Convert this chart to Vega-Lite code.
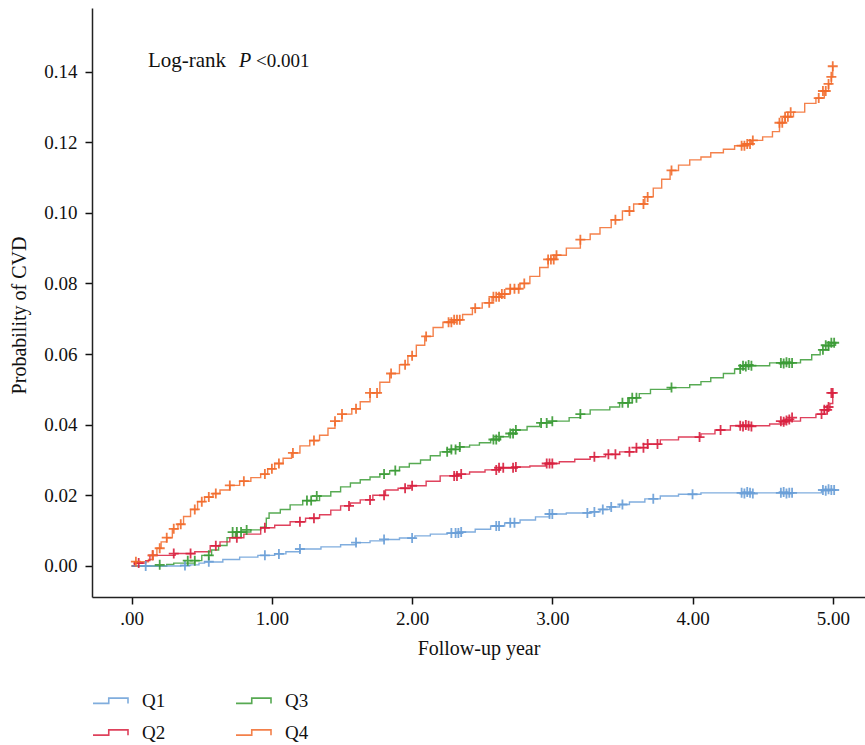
{
  "$schema": "https://vega.github.io/schema/vega-lite/v6.json",
  "width": 773,
  "height": 589,
  "autosize": {"type": "none"},
  "padding": {"left": 92, "top": 8, "right": 0, "bottom": 148},
  "background": "white",
  "config": {
    "font": "Liberation Serif",
    "view": {"stroke": null},
    "axis": {
      "grid": false,
      "domainColor": "#222222",
      "domainWidth": 1.5,
      "tickColor": "#111111",
      "tickWidth": 1.5,
      "tickSize": 7,
      "labelColor": "#111111",
      "labelFontSize": 19,
      "titleColor": "#111111",
      "titleFontSize": 20,
      "titleFontWeight": "normal",
      "labelFont": "Liberation Serif",
      "titleFont": "Liberation Serif"
    },
    "legend": {"labelFont": "Liberation Serif"}
  },
  "datasets": {
    "curves": [
      {"group": "Q4", "t": 0, "p": 0},
      {"group": "Q4", "t": 0.02, "p": 0.0012},
      {"group": "Q4", "t": 0.12, "p": 0.0018},
      {"group": "Q4", "t": 0.15, "p": 0.003},
      {"group": "Q4", "t": 0.18, "p": 0.005},
      {"group": "Q4", "t": 0.21, "p": 0.0068},
      {"group": "Q4", "t": 0.25, "p": 0.008},
      {"group": "Q4", "t": 0.29, "p": 0.0105},
      {"group": "Q4", "t": 0.33, "p": 0.0118},
      {"group": "Q4", "t": 0.37, "p": 0.014},
      {"group": "Q4", "t": 0.42, "p": 0.016},
      {"group": "Q4", "t": 0.47, "p": 0.0182},
      {"group": "Q4", "t": 0.52, "p": 0.0195},
      {"group": "Q4", "t": 0.58, "p": 0.0205},
      {"group": "Q4", "t": 0.63, "p": 0.0215},
      {"group": "Q4", "t": 0.7, "p": 0.0228},
      {"group": "Q4", "t": 0.77, "p": 0.024},
      {"group": "Q4", "t": 0.85, "p": 0.025},
      {"group": "Q4", "t": 0.92, "p": 0.026},
      {"group": "Q4", "t": 0.97, "p": 0.0275},
      {"group": "Q4", "t": 1.02, "p": 0.029},
      {"group": "Q4", "t": 1.08, "p": 0.0305},
      {"group": "Q4", "t": 1.14, "p": 0.032},
      {"group": "Q4", "t": 1.2, "p": 0.034},
      {"group": "Q4", "t": 1.27, "p": 0.0355},
      {"group": "Q4", "t": 1.34, "p": 0.037},
      {"group": "Q4", "t": 1.4, "p": 0.039},
      {"group": "Q4", "t": 1.45, "p": 0.041},
      {"group": "Q4", "t": 1.5, "p": 0.043},
      {"group": "Q4", "t": 1.57, "p": 0.0445},
      {"group": "Q4", "t": 1.63, "p": 0.0465},
      {"group": "Q4", "t": 1.7, "p": 0.049},
      {"group": "Q4", "t": 1.77, "p": 0.052},
      {"group": "Q4", "t": 1.84, "p": 0.0545},
      {"group": "Q4", "t": 1.91, "p": 0.057},
      {"group": "Q4", "t": 1.97, "p": 0.0595},
      {"group": "Q4", "t": 2.03, "p": 0.0625},
      {"group": "Q4", "t": 2.09, "p": 0.065},
      {"group": "Q4", "t": 2.15, "p": 0.0675},
      {"group": "Q4", "t": 2.22, "p": 0.069},
      {"group": "Q4", "t": 2.3, "p": 0.0697},
      {"group": "Q4", "t": 2.36, "p": 0.0712},
      {"group": "Q4", "t": 2.43, "p": 0.073},
      {"group": "Q4", "t": 2.5, "p": 0.0745},
      {"group": "Q4", "t": 2.57, "p": 0.0762},
      {"group": "Q4", "t": 2.63, "p": 0.077},
      {"group": "Q4", "t": 2.7, "p": 0.0785},
      {"group": "Q4", "t": 2.77, "p": 0.08},
      {"group": "Q4", "t": 2.84, "p": 0.082},
      {"group": "Q4", "t": 2.91, "p": 0.0845},
      {"group": "Q4", "t": 2.97, "p": 0.0868},
      {"group": "Q4", "t": 3.02, "p": 0.088},
      {"group": "Q4", "t": 3.1, "p": 0.09},
      {"group": "Q4", "t": 3.2, "p": 0.0924},
      {"group": "Q4", "t": 3.27, "p": 0.094},
      {"group": "Q4", "t": 3.34, "p": 0.0958},
      {"group": "Q4", "t": 3.42, "p": 0.098},
      {"group": "Q4", "t": 3.5, "p": 0.1005},
      {"group": "Q4", "t": 3.58, "p": 0.1025},
      {"group": "Q4", "t": 3.66, "p": 0.1045},
      {"group": "Q4", "t": 3.72, "p": 0.107},
      {"group": "Q4", "t": 3.78, "p": 0.1095},
      {"group": "Q4", "t": 3.84, "p": 0.112},
      {"group": "Q4", "t": 3.9, "p": 0.1135},
      {"group": "Q4", "t": 3.98, "p": 0.115},
      {"group": "Q4", "t": 4.06, "p": 0.1158},
      {"group": "Q4", "t": 4.13, "p": 0.117},
      {"group": "Q4", "t": 4.22, "p": 0.118},
      {"group": "Q4", "t": 4.3, "p": 0.119},
      {"group": "Q4", "t": 4.36, "p": 0.1195},
      {"group": "Q4", "t": 4.42, "p": 0.1205},
      {"group": "Q4", "t": 4.5, "p": 0.1215},
      {"group": "Q4", "t": 4.57, "p": 0.123},
      {"group": "Q4", "t": 4.62, "p": 0.1255},
      {"group": "Q4", "t": 4.66, "p": 0.1272},
      {"group": "Q4", "t": 4.72, "p": 0.1285},
      {"group": "Q4", "t": 4.8, "p": 0.131},
      {"group": "Q4", "t": 4.88, "p": 0.1325},
      {"group": "Q4", "t": 4.94, "p": 0.1345},
      {"group": "Q4", "t": 4.97, "p": 0.1365},
      {"group": "Q4", "t": 4.99, "p": 0.1385},
      {"group": "Q4", "t": 5.0, "p": 0.1415},

      {"group": "Q3", "t": 0, "p": 0},
      {"group": "Q3", "t": 0.25, "p": 0.0004},
      {"group": "Q3", "t": 0.3, "p": 0.0008},
      {"group": "Q3", "t": 0.45, "p": 0.0015},
      {"group": "Q3", "t": 0.5, "p": 0.003},
      {"group": "Q3", "t": 0.57, "p": 0.0045},
      {"group": "Q3", "t": 0.62, "p": 0.0058},
      {"group": "Q3", "t": 0.68, "p": 0.008},
      {"group": "Q3", "t": 0.74, "p": 0.0096},
      {"group": "Q3", "t": 0.85, "p": 0.0102},
      {"group": "Q3", "t": 0.92, "p": 0.011},
      {"group": "Q3", "t": 0.96, "p": 0.0135},
      {"group": "Q3", "t": 0.98, "p": 0.015},
      {"group": "Q3", "t": 1.06, "p": 0.016},
      {"group": "Q3", "t": 1.13, "p": 0.0173},
      {"group": "Q3", "t": 1.22, "p": 0.0185},
      {"group": "Q3", "t": 1.34, "p": 0.0198},
      {"group": "Q3", "t": 1.42, "p": 0.021},
      {"group": "Q3", "t": 1.49, "p": 0.0224},
      {"group": "Q3", "t": 1.56, "p": 0.0235},
      {"group": "Q3", "t": 1.63, "p": 0.0244},
      {"group": "Q3", "t": 1.7, "p": 0.0252},
      {"group": "Q3", "t": 1.77, "p": 0.026},
      {"group": "Q3", "t": 1.84, "p": 0.027},
      {"group": "Q3", "t": 1.91, "p": 0.028},
      {"group": "Q3", "t": 1.98, "p": 0.029},
      {"group": "Q3", "t": 2.06, "p": 0.03},
      {"group": "Q3", "t": 2.13, "p": 0.0312},
      {"group": "Q3", "t": 2.2, "p": 0.0323},
      {"group": "Q3", "t": 2.27, "p": 0.033},
      {"group": "Q3", "t": 2.34, "p": 0.0337},
      {"group": "Q3", "t": 2.41, "p": 0.0342},
      {"group": "Q3", "t": 2.48, "p": 0.0349},
      {"group": "Q3", "t": 2.56, "p": 0.0358},
      {"group": "Q3", "t": 2.63, "p": 0.0366},
      {"group": "Q3", "t": 2.69, "p": 0.0375},
      {"group": "Q3", "t": 2.74, "p": 0.0385},
      {"group": "Q3", "t": 2.82, "p": 0.0395},
      {"group": "Q3", "t": 2.91, "p": 0.0405},
      {"group": "Q3", "t": 3.0, "p": 0.041},
      {"group": "Q3", "t": 3.12, "p": 0.042},
      {"group": "Q3", "t": 3.2, "p": 0.043},
      {"group": "Q3", "t": 3.27, "p": 0.0442},
      {"group": "Q3", "t": 3.41, "p": 0.045},
      {"group": "Q3", "t": 3.48, "p": 0.0462},
      {"group": "Q3", "t": 3.55, "p": 0.0476},
      {"group": "Q3", "t": 3.62, "p": 0.0488},
      {"group": "Q3", "t": 3.7, "p": 0.05},
      {"group": "Q3", "t": 3.84, "p": 0.0505},
      {"group": "Q3", "t": 3.98, "p": 0.0513},
      {"group": "Q3", "t": 4.06, "p": 0.0522},
      {"group": "Q3", "t": 4.13, "p": 0.0533},
      {"group": "Q3", "t": 4.22, "p": 0.0545},
      {"group": "Q3", "t": 4.3, "p": 0.0558},
      {"group": "Q3", "t": 4.34, "p": 0.0567},
      {"group": "Q3", "t": 4.55, "p": 0.0575},
      {"group": "Q3", "t": 4.77, "p": 0.0584},
      {"group": "Q3", "t": 4.85, "p": 0.0598},
      {"group": "Q3", "t": 4.91, "p": 0.0612},
      {"group": "Q3", "t": 4.97, "p": 0.0625},
      {"group": "Q3", "t": 5.02, "p": 0.0632},

      {"group": "Q2", "t": 0, "p": 0},
      {"group": "Q2", "t": 0.02, "p": 0.0008},
      {"group": "Q2", "t": 0.1, "p": 0.0015},
      {"group": "Q2", "t": 0.13, "p": 0.003},
      {"group": "Q2", "t": 0.31, "p": 0.0035},
      {"group": "Q2", "t": 0.45, "p": 0.004},
      {"group": "Q2", "t": 0.56, "p": 0.0057},
      {"group": "Q2", "t": 0.63, "p": 0.0068},
      {"group": "Q2", "t": 0.7, "p": 0.008},
      {"group": "Q2", "t": 0.8, "p": 0.009},
      {"group": "Q2", "t": 0.92, "p": 0.0108},
      {"group": "Q2", "t": 1.02, "p": 0.0115},
      {"group": "Q2", "t": 1.13, "p": 0.0125},
      {"group": "Q2", "t": 1.24, "p": 0.0135},
      {"group": "Q2", "t": 1.34, "p": 0.0145},
      {"group": "Q2", "t": 1.42, "p": 0.0158},
      {"group": "Q2", "t": 1.49, "p": 0.017},
      {"group": "Q2", "t": 1.56, "p": 0.0178},
      {"group": "Q2", "t": 1.63, "p": 0.0187},
      {"group": "Q2", "t": 1.72, "p": 0.02},
      {"group": "Q2", "t": 1.81, "p": 0.0215},
      {"group": "Q2", "t": 1.9, "p": 0.022},
      {"group": "Q2", "t": 1.99, "p": 0.0227},
      {"group": "Q2", "t": 2.1, "p": 0.024},
      {"group": "Q2", "t": 2.2, "p": 0.0255},
      {"group": "Q2", "t": 2.3, "p": 0.026},
      {"group": "Q2", "t": 2.41, "p": 0.0266},
      {"group": "Q2", "t": 2.52, "p": 0.0272},
      {"group": "Q2", "t": 2.63, "p": 0.0278},
      {"group": "Q2", "t": 2.74, "p": 0.028},
      {"group": "Q2", "t": 2.84, "p": 0.0283},
      {"group": "Q2", "t": 2.95, "p": 0.029},
      {"group": "Q2", "t": 3.05, "p": 0.0295},
      {"group": "Q2", "t": 3.16, "p": 0.0302},
      {"group": "Q2", "t": 3.27, "p": 0.0309},
      {"group": "Q2", "t": 3.38, "p": 0.0316},
      {"group": "Q2", "t": 3.48, "p": 0.0323},
      {"group": "Q2", "t": 3.6, "p": 0.0335},
      {"group": "Q2", "t": 3.68, "p": 0.0345},
      {"group": "Q2", "t": 3.77, "p": 0.0357},
      {"group": "Q2", "t": 3.9, "p": 0.0365},
      {"group": "Q2", "t": 4.06, "p": 0.0374},
      {"group": "Q2", "t": 4.16, "p": 0.0385},
      {"group": "Q2", "t": 4.27, "p": 0.0397},
      {"group": "Q2", "t": 4.55, "p": 0.0402},
      {"group": "Q2", "t": 4.66, "p": 0.041},
      {"group": "Q2", "t": 4.77, "p": 0.042},
      {"group": "Q2", "t": 4.88, "p": 0.043},
      {"group": "Q2", "t": 4.94, "p": 0.0442},
      {"group": "Q2", "t": 4.98, "p": 0.046},
      {"group": "Q2", "t": 5.0, "p": 0.049},

      {"group": "Q1", "t": 0, "p": 0},
      {"group": "Q1", "t": 0.35, "p": 0.0001},
      {"group": "Q1", "t": 0.42, "p": 0.0003},
      {"group": "Q1", "t": 0.48, "p": 0.0008},
      {"group": "Q1", "t": 0.52, "p": 0.0011},
      {"group": "Q1", "t": 0.65, "p": 0.0018},
      {"group": "Q1", "t": 0.77, "p": 0.0025},
      {"group": "Q1", "t": 0.9, "p": 0.003},
      {"group": "Q1", "t": 1.02, "p": 0.0034},
      {"group": "Q1", "t": 1.1, "p": 0.004},
      {"group": "Q1", "t": 1.2, "p": 0.0048},
      {"group": "Q1", "t": 1.35, "p": 0.0054},
      {"group": "Q1", "t": 1.49, "p": 0.006},
      {"group": "Q1", "t": 1.6, "p": 0.0066},
      {"group": "Q1", "t": 1.7, "p": 0.0071},
      {"group": "Q1", "t": 1.8, "p": 0.0075},
      {"group": "Q1", "t": 1.91, "p": 0.0079},
      {"group": "Q1", "t": 2.02, "p": 0.0085},
      {"group": "Q1", "t": 2.13, "p": 0.009},
      {"group": "Q1", "t": 2.25, "p": 0.0093},
      {"group": "Q1", "t": 2.34, "p": 0.0096},
      {"group": "Q1", "t": 2.45, "p": 0.0104},
      {"group": "Q1", "t": 2.56, "p": 0.0113},
      {"group": "Q1", "t": 2.66, "p": 0.0122},
      {"group": "Q1", "t": 2.77, "p": 0.013},
      {"group": "Q1", "t": 2.88, "p": 0.0139},
      {"group": "Q1", "t": 2.98, "p": 0.0147},
      {"group": "Q1", "t": 3.1, "p": 0.015},
      {"group": "Q1", "t": 3.27, "p": 0.0153},
      {"group": "Q1", "t": 3.34, "p": 0.016},
      {"group": "Q1", "t": 3.41, "p": 0.0167},
      {"group": "Q1", "t": 3.48, "p": 0.0174},
      {"group": "Q1", "t": 3.55, "p": 0.0181},
      {"group": "Q1", "t": 3.66, "p": 0.019},
      {"group": "Q1", "t": 3.77, "p": 0.0198},
      {"group": "Q1", "t": 3.9, "p": 0.0203},
      {"group": "Q1", "t": 4.06, "p": 0.0207},
      {"group": "Q1", "t": 4.9, "p": 0.0207},
      {"group": "Q1", "t": 4.92, "p": 0.0215},
      {"group": "Q1", "t": 5.02, "p": 0.0215}
    ],
    "censor": [
      {"group": "Q1", "t": 0.1, "p": 0},
      {"group": "Q1", "t": 0.38, "p": 0.0001},
      {"group": "Q1", "t": 0.55, "p": 0.0012},
      {"group": "Q1", "t": 0.95, "p": 0.003},
      {"group": "Q1", "t": 1.05, "p": 0.0034},
      {"group": "Q1", "t": 1.2, "p": 0.0048},
      {"group": "Q1", "t": 1.6, "p": 0.0066},
      {"group": "Q1", "t": 1.8, "p": 0.0075},
      {"group": "Q1", "t": 2.0, "p": 0.0079},
      {"group": "Q1", "t": 2.28, "p": 0.0093},
      {"group": "Q1", "t": 2.31, "p": 0.0093},
      {"group": "Q1", "t": 2.33, "p": 0.0093},
      {"group": "Q1", "t": 2.35, "p": 0.0096},
      {"group": "Q1", "t": 2.6, "p": 0.0113},
      {"group": "Q1", "t": 2.62, "p": 0.0113},
      {"group": "Q1", "t": 2.7, "p": 0.0122},
      {"group": "Q1", "t": 2.73, "p": 0.0122},
      {"group": "Q1", "t": 2.98, "p": 0.0147},
      {"group": "Q1", "t": 3.0, "p": 0.0147},
      {"group": "Q1", "t": 3.25, "p": 0.015},
      {"group": "Q1", "t": 3.3, "p": 0.0153},
      {"group": "Q1", "t": 3.36, "p": 0.016},
      {"group": "Q1", "t": 3.42, "p": 0.0167},
      {"group": "Q1", "t": 3.5, "p": 0.0174},
      {"group": "Q1", "t": 3.72, "p": 0.019},
      {"group": "Q1", "t": 4.0, "p": 0.0203},
      {"group": "Q1", "t": 4.35, "p": 0.0207},
      {"group": "Q1", "t": 4.37, "p": 0.0205},
      {"group": "Q1", "t": 4.39, "p": 0.0209},
      {"group": "Q1", "t": 4.41, "p": 0.0207},
      {"group": "Q1", "t": 4.43, "p": 0.0205},
      {"group": "Q1", "t": 4.63, "p": 0.0207},
      {"group": "Q1", "t": 4.65, "p": 0.0209},
      {"group": "Q1", "t": 4.67, "p": 0.0205},
      {"group": "Q1", "t": 4.69, "p": 0.0207},
      {"group": "Q1", "t": 4.71, "p": 0.0207},
      {"group": "Q1", "t": 4.93, "p": 0.0215},
      {"group": "Q1", "t": 4.95, "p": 0.0213},
      {"group": "Q1", "t": 4.97, "p": 0.0217},
      {"group": "Q1", "t": 4.99, "p": 0.0215},
      {"group": "Q1", "t": 5.01, "p": 0.0215},

      {"group": "Q2", "t": 0.05, "p": 0.0008},
      {"group": "Q2", "t": 0.15, "p": 0.003},
      {"group": "Q2", "t": 0.3, "p": 0.0035},
      {"group": "Q2", "t": 0.42, "p": 0.0035},
      {"group": "Q2", "t": 0.6, "p": 0.0057},
      {"group": "Q2", "t": 0.75, "p": 0.008},
      {"group": "Q2", "t": 0.95, "p": 0.0108},
      {"group": "Q2", "t": 1.2, "p": 0.0125},
      {"group": "Q2", "t": 1.3, "p": 0.0135},
      {"group": "Q2", "t": 1.55, "p": 0.017},
      {"group": "Q2", "t": 1.7, "p": 0.0187},
      {"group": "Q2", "t": 1.8, "p": 0.02},
      {"group": "Q2", "t": 1.95, "p": 0.022},
      {"group": "Q2", "t": 2.0, "p": 0.0227},
      {"group": "Q2", "t": 2.3, "p": 0.0255},
      {"group": "Q2", "t": 2.32, "p": 0.0255},
      {"group": "Q2", "t": 2.35, "p": 0.026},
      {"group": "Q2", "t": 2.6, "p": 0.0272},
      {"group": "Q2", "t": 2.62, "p": 0.0278},
      {"group": "Q2", "t": 2.65, "p": 0.0278},
      {"group": "Q2", "t": 2.72, "p": 0.0278},
      {"group": "Q2", "t": 2.74, "p": 0.028},
      {"group": "Q2", "t": 2.96, "p": 0.029},
      {"group": "Q2", "t": 2.98, "p": 0.029},
      {"group": "Q2", "t": 3.0, "p": 0.029},
      {"group": "Q2", "t": 3.3, "p": 0.0309},
      {"group": "Q2", "t": 3.4, "p": 0.0316},
      {"group": "Q2", "t": 3.45, "p": 0.0316},
      {"group": "Q2", "t": 3.55, "p": 0.0323},
      {"group": "Q2", "t": 3.6, "p": 0.0335},
      {"group": "Q2", "t": 3.65, "p": 0.0335},
      {"group": "Q2", "t": 3.68, "p": 0.0345},
      {"group": "Q2", "t": 3.75, "p": 0.0345},
      {"group": "Q2", "t": 4.05, "p": 0.0365},
      {"group": "Q2", "t": 4.2, "p": 0.0385},
      {"group": "Q2", "t": 4.34, "p": 0.0397},
      {"group": "Q2", "t": 4.36, "p": 0.0395},
      {"group": "Q2", "t": 4.38, "p": 0.0399},
      {"group": "Q2", "t": 4.4, "p": 0.0397},
      {"group": "Q2", "t": 4.42, "p": 0.0395},
      {"group": "Q2", "t": 4.63, "p": 0.041},
      {"group": "Q2", "t": 4.65, "p": 0.0408},
      {"group": "Q2", "t": 4.67, "p": 0.0412},
      {"group": "Q2", "t": 4.69, "p": 0.0415},
      {"group": "Q2", "t": 4.71, "p": 0.042},
      {"group": "Q2", "t": 4.92, "p": 0.043},
      {"group": "Q2", "t": 4.94, "p": 0.0442},
      {"group": "Q2", "t": 4.96, "p": 0.0442},
      {"group": "Q2", "t": 4.97, "p": 0.045},
      {"group": "Q2", "t": 4.99, "p": 0.049},
      {"group": "Q2", "t": 5.0, "p": 0.049},

      {"group": "Q3", "t": 0.2, "p": 0.0003},
      {"group": "Q3", "t": 0.4, "p": 0.0015},
      {"group": "Q3", "t": 0.45, "p": 0.0015},
      {"group": "Q3", "t": 0.55, "p": 0.003},
      {"group": "Q3", "t": 0.72, "p": 0.0096},
      {"group": "Q3", "t": 0.75, "p": 0.0096},
      {"group": "Q3", "t": 0.78, "p": 0.0096},
      {"group": "Q3", "t": 0.82, "p": 0.0102},
      {"group": "Q3", "t": 1.25, "p": 0.0185},
      {"group": "Q3", "t": 1.28, "p": 0.0185},
      {"group": "Q3", "t": 1.32, "p": 0.0198},
      {"group": "Q3", "t": 1.8, "p": 0.026},
      {"group": "Q3", "t": 1.88, "p": 0.027},
      {"group": "Q3", "t": 2.25, "p": 0.0323},
      {"group": "Q3", "t": 2.28, "p": 0.033},
      {"group": "Q3", "t": 2.31, "p": 0.033},
      {"group": "Q3", "t": 2.34, "p": 0.0337},
      {"group": "Q3", "t": 2.58, "p": 0.0358},
      {"group": "Q3", "t": 2.6, "p": 0.0358},
      {"group": "Q3", "t": 2.62, "p": 0.0366},
      {"group": "Q3", "t": 2.7, "p": 0.0375},
      {"group": "Q3", "t": 2.72, "p": 0.0375},
      {"group": "Q3", "t": 2.74, "p": 0.0385},
      {"group": "Q3", "t": 2.92, "p": 0.0405},
      {"group": "Q3", "t": 2.96, "p": 0.0405},
      {"group": "Q3", "t": 3.0, "p": 0.041},
      {"group": "Q3", "t": 3.2, "p": 0.043},
      {"group": "Q3", "t": 3.5, "p": 0.0462},
      {"group": "Q3", "t": 3.54, "p": 0.0462},
      {"group": "Q3", "t": 3.57, "p": 0.0476},
      {"group": "Q3", "t": 3.6, "p": 0.0476},
      {"group": "Q3", "t": 3.85, "p": 0.0505},
      {"group": "Q3", "t": 4.34, "p": 0.0558},
      {"group": "Q3", "t": 4.36, "p": 0.0567},
      {"group": "Q3", "t": 4.38, "p": 0.0565},
      {"group": "Q3", "t": 4.4, "p": 0.0569},
      {"group": "Q3", "t": 4.42, "p": 0.0567},
      {"group": "Q3", "t": 4.63, "p": 0.0575},
      {"group": "Q3", "t": 4.65, "p": 0.0573},
      {"group": "Q3", "t": 4.67, "p": 0.0577},
      {"group": "Q3", "t": 4.69, "p": 0.0575},
      {"group": "Q3", "t": 4.71, "p": 0.0575},
      {"group": "Q3", "t": 4.93, "p": 0.0612},
      {"group": "Q3", "t": 4.95, "p": 0.0625},
      {"group": "Q3", "t": 4.97, "p": 0.0623},
      {"group": "Q3", "t": 4.99, "p": 0.0632},
      {"group": "Q3", "t": 5.01, "p": 0.0632},

      {"group": "Q4", "t": 0.03, "p": 0.0012},
      {"group": "Q4", "t": 0.15, "p": 0.003},
      {"group": "Q4", "t": 0.2, "p": 0.005},
      {"group": "Q4", "t": 0.25, "p": 0.008},
      {"group": "Q4", "t": 0.3, "p": 0.0105},
      {"group": "Q4", "t": 0.35, "p": 0.0118},
      {"group": "Q4", "t": 0.45, "p": 0.016},
      {"group": "Q4", "t": 0.5, "p": 0.0182},
      {"group": "Q4", "t": 0.55, "p": 0.0195},
      {"group": "Q4", "t": 0.6, "p": 0.0205},
      {"group": "Q4", "t": 0.7, "p": 0.0228},
      {"group": "Q4", "t": 0.8, "p": 0.024},
      {"group": "Q4", "t": 0.95, "p": 0.026},
      {"group": "Q4", "t": 1.0, "p": 0.0275},
      {"group": "Q4", "t": 1.05, "p": 0.029},
      {"group": "Q4", "t": 1.15, "p": 0.032},
      {"group": "Q4", "t": 1.3, "p": 0.0355},
      {"group": "Q4", "t": 1.45, "p": 0.041},
      {"group": "Q4", "t": 1.5, "p": 0.043},
      {"group": "Q4", "t": 1.6, "p": 0.0445},
      {"group": "Q4", "t": 1.7, "p": 0.049},
      {"group": "Q4", "t": 1.75, "p": 0.049},
      {"group": "Q4", "t": 1.85, "p": 0.0545},
      {"group": "Q4", "t": 1.95, "p": 0.057},
      {"group": "Q4", "t": 2.0, "p": 0.0595},
      {"group": "Q4", "t": 2.1, "p": 0.065},
      {"group": "Q4", "t": 2.26, "p": 0.069},
      {"group": "Q4", "t": 2.28, "p": 0.069},
      {"group": "Q4", "t": 2.3, "p": 0.0697},
      {"group": "Q4", "t": 2.32, "p": 0.0697},
      {"group": "Q4", "t": 2.34, "p": 0.0697},
      {"group": "Q4", "t": 2.45, "p": 0.073},
      {"group": "Q4", "t": 2.55, "p": 0.0745},
      {"group": "Q4", "t": 2.58, "p": 0.0762},
      {"group": "Q4", "t": 2.6, "p": 0.0762},
      {"group": "Q4", "t": 2.62, "p": 0.0762},
      {"group": "Q4", "t": 2.64, "p": 0.077},
      {"group": "Q4", "t": 2.66, "p": 0.077},
      {"group": "Q4", "t": 2.7, "p": 0.0785},
      {"group": "Q4", "t": 2.73, "p": 0.0785},
      {"group": "Q4", "t": 2.76, "p": 0.0785},
      {"group": "Q4", "t": 2.8, "p": 0.08},
      {"group": "Q4", "t": 2.97, "p": 0.0868},
      {"group": "Q4", "t": 2.99, "p": 0.0868},
      {"group": "Q4", "t": 3.01, "p": 0.0868},
      {"group": "Q4", "t": 3.03, "p": 0.088},
      {"group": "Q4", "t": 3.2, "p": 0.0924},
      {"group": "Q4", "t": 3.45, "p": 0.098},
      {"group": "Q4", "t": 3.55, "p": 0.1005},
      {"group": "Q4", "t": 3.65, "p": 0.1025},
      {"group": "Q4", "t": 3.68, "p": 0.1045},
      {"group": "Q4", "t": 3.85, "p": 0.112},
      {"group": "Q4", "t": 4.35, "p": 0.119},
      {"group": "Q4", "t": 4.37, "p": 0.119},
      {"group": "Q4", "t": 4.39, "p": 0.1195},
      {"group": "Q4", "t": 4.41, "p": 0.1195},
      {"group": "Q4", "t": 4.43, "p": 0.1205},
      {"group": "Q4", "t": 4.62, "p": 0.1255},
      {"group": "Q4", "t": 4.64, "p": 0.1255},
      {"group": "Q4", "t": 4.66, "p": 0.1272},
      {"group": "Q4", "t": 4.68, "p": 0.1272},
      {"group": "Q4", "t": 4.7, "p": 0.1285},
      {"group": "Q4", "t": 4.9, "p": 0.1325},
      {"group": "Q4", "t": 4.93, "p": 0.1345},
      {"group": "Q4", "t": 4.95, "p": 0.1345},
      {"group": "Q4", "t": 4.97, "p": 0.1365},
      {"group": "Q4", "t": 4.99, "p": 0.1385},
      {"group": "Q4", "t": 5.0, "p": 0.1415}
    ]
  },
  "layer": [
    {
      "data": {"name": "curves"},
      "mark": {"type": "line", "interpolate": "step-after", "strokeWidth": 1.4, "opacity": 0.85},
      "encoding": {
        "x": {
          "field": "t", "type": "quantitative",
          "scale": {"domain": [-0.283, 5.23], "nice": false, "zero": false},
          "axis": {
            "values": [0, 1, 2, 3, 4, 5],
            "labelExpr": "datum.value == 0 ? '.00' : format(datum.value, '.2f')",
            "title": "Follow-up year",
            "labelPadding": 5,
            "titlePadding": 10
          }
        },
        "y": {
          "field": "p", "type": "quantitative",
          "scale": {"domain": [-0.0088, 0.158], "nice": false, "zero": false},
          "axis": {
            "values": [0, 0.02, 0.04, 0.06, 0.08, 0.1, 0.12, 0.14],
            "format": ".2f",
            "title": "Probability of CVD",
            "labelPadding": 8,
            "titlePadding": 14,
            "titleY": 307
          }
        },
        "color": {
          "field": "group", "type": "nominal",
          "scale": {"domain": ["Q1", "Q2", "Q3", "Q4"], "range": ["#6a9fd8", "#d9203f", "#3a9b35", "#f26b2b"]},
          "legend": {
            "title": null,
            "orient": "none",
            "legendX": 0,
            "legendY": 674,
            "columns": 2,
            "padding": 0,
            "columnPadding": 66,
            "rowPadding": 3,
            "symbolType": "M-1,0.15H-0.1V-0.15H1V0.15",
            "symbolSize": 1225,
            "symbolStrokeWidth": 1.6,
            "symbolFillColor": "transparent",
            "labelFontSize": 19,
            "labelColor": "#111111",
            "labelOffset": 13,
            "encode": {"symbols": {"update": {"fill": {"value": "transparent"}}}}
          }
        },
        "detail": {"field": "group"}
      }
    },
    {
      "data": {"name": "censor"},
      "mark": {"type": "point", "shape": "M-1,0H1M0,-1V1", "size": 100, "strokeWidth": 1.8, "filled": false, "opacity": 0.9},
      "encoding": {
        "x": {"field": "t", "type": "quantitative"},
        "y": {"field": "p", "type": "quantitative"},
        "color": {
          "field": "group", "type": "nominal",
          "scale": {"domain": ["Q1", "Q2", "Q3", "Q4"], "range": ["#6a9fd8", "#d9203f", "#3a9b35", "#f26b2b"]},
          "legend": null
        }
      }
    },
    {
      "data": {"values": [{}]},
      "mark": {"type": "text", "align": "left", "baseline": "alphabetic", "fontSize": 21, "color": "#111111", "font": "Liberation Serif"},
      "encoding": {"x": {"datum": 0.116}, "y": {"datum": 0.1413}, "text": {"value": "Log-rank"}}
    },
    {
      "data": {"values": [{}]},
      "mark": {"type": "text", "align": "left", "baseline": "alphabetic", "fontSize": 20, "fontStyle": "italic", "color": "#111111", "font": "Liberation Serif"},
      "encoding": {"x": {"datum": 0.765}, "y": {"datum": 0.1413}, "text": {"value": "P"}}
    },
    {
      "data": {"values": [{}]},
      "mark": {"type": "text", "align": "left", "baseline": "alphabetic", "fontSize": 19, "color": "#111111", "font": "Liberation Serif"},
      "encoding": {"x": {"datum": 0.886}, "y": {"datum": 0.1413}, "text": {"value": "<0.001"}}
    }
  ]
}
